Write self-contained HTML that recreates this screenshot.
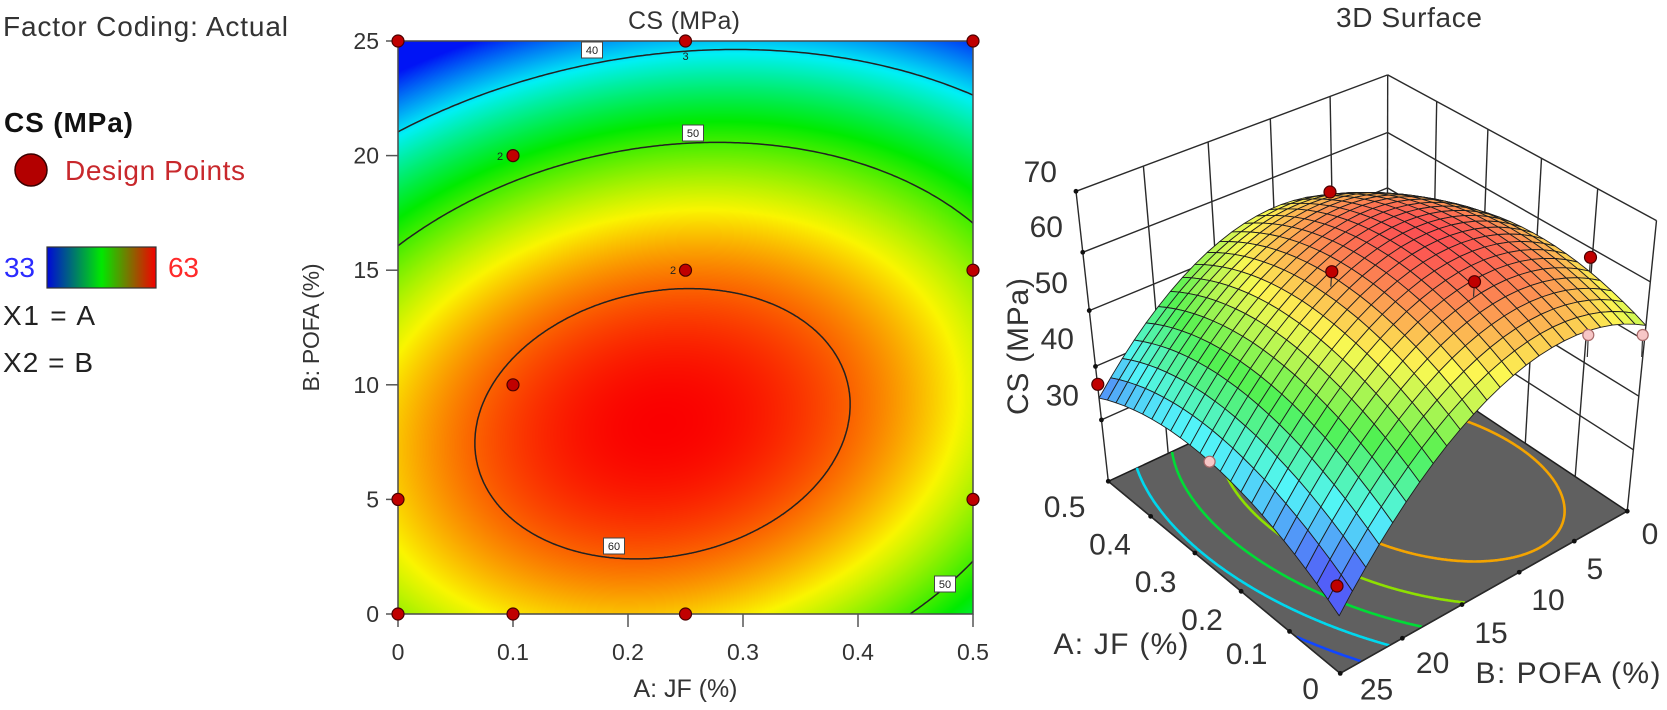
<!DOCTYPE html>
<html><head><meta charset="utf-8"><style>
html,body{margin:0;padding:0;background:#fff;overflow:hidden;}
#root{position:relative;width:1667px;height:710px;overflow:hidden;background:#fff;}
#hm{position:absolute;left:398px;top:41px;display:block;}
#sv{position:absolute;left:0;top:0;display:block;overflow:hidden;}
text{font-family:"Liberation Sans",Arial,sans-serif;}
</style></head><body><div id="root">
<canvas id="hm" width="575" height="573"></canvas>
<svg id="sv" width="1667" height="710" viewBox="0 0 1667 710" xmlns="http://www.w3.org/2000/svg">
<defs>
<linearGradient id="lg" x1="0" x2="1" y1="0" y2="0">
<stop offset="0" stop-color="#0008d8"/><stop offset="0.5" stop-color="#00e800"/><stop offset="1" stop-color="#f40000"/>
</linearGradient>
<clipPath id="cp"><rect x="398" y="41" width="575" height="573"/></clipPath>
</defs>

<!-- Legend -->
<text x="3" y="36" font-size="28" fill="#333" textLength="285">Factor Coding: Actual</text>
<text x="4" y="132" font-size="28" font-weight="bold" fill="#111" textLength="129">CS (MPa)</text>
<circle cx="31" cy="170" r="16" fill="#b30000" stroke="#3a0000" stroke-width="1.5"/>
<text x="65" y="180" font-size="28" fill="#c8282c" textLength="180">Design Points</text>
<text x="4" y="277" font-size="28" fill="#2b2bff" textLength="31">33</text>
<rect x="47" y="247" width="109" height="41" fill="url(#lg)" stroke="#333" stroke-width="1.2"/>
<text x="168" y="277" font-size="28" fill="#ff2a2a" textLength="31">63</text>
<text x="3" y="325" font-size="28" fill="#222" textLength="92">X1 = A</text>
<text x="3" y="372" font-size="28" fill="#222" textLength="90">X2 = B</text>

<!-- Contour plot -->
<text x="684" y="29" text-anchor="middle" font-size="25" fill="#333" textLength="112">CS (MPa)</text>
<g id="cl" clip-path="url(#cp)"></g>
<rect x="398" y="41" width="575" height="573" fill="none" stroke="#4a4a4a" stroke-width="1.5"/>
<g stroke="#555" stroke-width="1.5">
<line x1="386" y1="41" x2="398" y2="41"/><line x1="386" y1="155.6" x2="398" y2="155.6"/>
<line x1="386" y1="270.2" x2="398" y2="270.2"/><line x1="386" y1="384.8" x2="398" y2="384.8"/>
<line x1="386" y1="499.4" x2="398" y2="499.4"/><line x1="386" y1="614" x2="398" y2="614"/>
<line x1="398" y1="614" x2="398" y2="627"/><line x1="513" y1="614" x2="513" y2="627"/>
<line x1="628" y1="614" x2="628" y2="627"/><line x1="743" y1="614" x2="743" y2="627"/>
<line x1="858" y1="614" x2="858" y2="627"/><line x1="973" y1="614" x2="973" y2="627"/>
</g>
<g font-size="23" fill="#333" text-anchor="end">
<text x="379" y="49">25</text><text x="379" y="163.6">20</text><text x="379" y="278.2">15</text>
<text x="379" y="392.8">10</text><text x="379" y="507.4">5</text><text x="379" y="622">0</text>
</g>
<g font-size="23" fill="#333" text-anchor="middle">
<text x="398" y="660">0</text><text x="513" y="660">0.1</text><text x="628" y="660">0.2</text>
<text x="743" y="660">0.3</text><text x="858" y="660">0.4</text><text x="973" y="660">0.5</text>
</g>
<text x="685.5" y="697" text-anchor="middle" font-size="25" fill="#333" textLength="104">A: JF (%)</text>
<text x="319" y="327.5" text-anchor="middle" font-size="23" fill="#333" textLength="128" transform="rotate(-90 319 327.5)">B: POFA (%)</text>

<g font-size="11" fill="#222" text-anchor="middle">
<rect x="581.5" y="42" width="21" height="16" fill="#fff" stroke="#444" stroke-width="1"/><text x="592" y="54">40</text>
<rect x="682.5" y="125" width="21" height="16" fill="#fff" stroke="#444" stroke-width="1"/><text x="693" y="137">50</text>
<rect x="603.5" y="538" width="21" height="16" fill="#fff" stroke="#444" stroke-width="1"/><text x="614" y="550">60</text>
<rect x="934.5" y="576" width="21" height="16" fill="#fff" stroke="#444" stroke-width="1"/><text x="945" y="588">50</text>
<text x="685.5" y="60">3</text><text x="500" y="160">2</text><text x="673" y="274">2</text>
</g>
<g fill="#c00000" stroke="#4a0000" stroke-width="1.2">
<circle cx="398" cy="41" r="6"/><circle cx="685.5" cy="41" r="6"/><circle cx="973" cy="41" r="6"/>
<circle cx="513" cy="155.6" r="6"/><circle cx="685.5" cy="270.2" r="6"/><circle cx="973" cy="270.2" r="6"/>
<circle cx="513" cy="384.8" r="6"/><circle cx="398" cy="499.4" r="6"/><circle cx="973" cy="499.4" r="6"/>
<circle cx="398" cy="614" r="6"/><circle cx="513" cy="614" r="6"/><circle cx="685.5" cy="614" r="6"/>
</g>

<!-- 3D -->
<text x="1409" y="27" text-anchor="middle" font-size="28" fill="#333" textLength="146">3D Surface</text>
<g id="g3"></g>
<g font-size="30" fill="#333" text-anchor="end">
<text x="1057" y="182">70</text><text x="1063" y="237">60</text><text x="1068" y="293">50</text>
<text x="1074" y="349">40</text><text x="1079" y="405.5">30</text>
</g>
<text x="1028" y="346.5" text-anchor="middle" font-size="30" fill="#333" textLength="137" transform="rotate(-90 1028 346.5)">CS (MPa)</text>
<g font-size="30" fill="#333" text-anchor="middle">
<text x="1064.6" y="517">0.5</text><text x="1110" y="554.5">0.4</text><text x="1155.6" y="592">0.3</text>
<text x="1202" y="630">0.2</text><text x="1246.6" y="664">0.1</text><text x="1310.6" y="699">0</text>
<text x="1376.5" y="699.5">25</text><text x="1432.6" y="673">20</text><text x="1491" y="643">15</text>
<text x="1548" y="610">10</text><text x="1594.8" y="579">5</text><text x="1650" y="544">0</text>
<text x="1121" y="654" textLength="135">A: JF (%)</text>
<text x="1568" y="683" textLength="185">B: POFA (%)</text>
</g>
</svg>
</div>
<script>
(function(){
const NS='http://www.w3.org/2000/svg';
function el(tag,attrs,parent){const e=document.createElementNS(NS,tag);for(const k in attrs)e.setAttribute(k,attrs[k]);parent.appendChild(e);return e;}
function F(A,B){const X=(A-0.23)/0.1,Y=(B-8.3)/5;return 63-1.15*X*X-2.2*Y*Y+0.45*X*Y;}
const CM=[[33,[0,20,245]],[40.5,[0,240,245]],[48,[0,235,0]],[55.5,[250,245,0]],[63,[250,0,0]]];
function cmap(v){if(v<=CM[0][0])return CM[0][1].slice();if(v>=CM[4][0])return CM[4][1].slice();
 for(let i=0;i<4;i++){if(v<=CM[i+1][0]){const t=(v-CM[i][0])/(CM[i+1][0]-CM[i][0]);return CM[i][1].map((c,k)=>c+(CM[i+1][1][k]-c)*t);}}return [0,0,0];}
try{
const cv=document.getElementById('hm'),ctx=cv.getContext('2d');const W=575,H=573;const img=ctx.createImageData(W,H);
for(let y=0;y<H;y++)for(let x=0;x<W;x++){const A=(x+0.5)/W*0.5,B=25-(y+0.5)/H*25;const c=cmap(F(A,B));const k=(y*W+x)*4;
 img.data[k]=c[0];img.data[k+1]=c[1];img.data[k+2]=c[2];img.data[k+3]=255;}
ctx.putImageData(img,0,0);
}catch(e){}
function ell(L,n){const pts=[];for(let i=0;i<=n;i++){const th=2*Math.PI*i/n,c=Math.cos(th),s=Math.sin(th);
 const q=1.15*c*c+2.2*s*s-0.45*c*s;const r=Math.sqrt((63-L)/q);pts.push([0.23+0.1*r*c,8.3+5*r*s]);}return pts;}
const gC=document.getElementById('cl');
[40,50,60].forEach(L=>{const pts=ell(L,720);let d='';pts.forEach((p,i)=>{const x=398+p[0]/0.5*575,y=614-p[1]/25*573;d+=(i?'L':'M')+x.toFixed(1)+' '+y.toFixed(1);});
 el('path',{d:d,fill:'none',stroke:'#222','stroke-width':1.5},gC);});
function solve(M,b){const n=b.length;for(let i=0;i<n;i++){let mx=i;for(let k=i+1;k<n;k++)if(Math.abs(M[k][i])>Math.abs(M[mx][i]))mx=k;
 let t=M[i];M[i]=M[mx];M[mx]=t;let tb=b[i];b[i]=b[mx];b[mx]=tb;
 for(let k=i+1;k<n;k++){const f=M[k][i]/M[i][i];for(let j=i;j<n;j++)M[k][j]-=f*M[i][j];b[k]-=f*b[i];}}
 const x=new Array(n).fill(0);for(let i=n-1;i>=0;i--){let s=b[i];for(let j=i+1;j<n;j++)s-=M[i][j]*x[j];x[i]=s/M[i][i];}return x;}
const FP=[[1,1,0,1108.3,482.3],[0,1,0,1337,672],[0,0,0,1624.5,511.7],[1,1,1,1078.3,191.7],[0,0,1,1655,216.7],[1,0,1,1386.7,75],
[1,1,.8077,1084.3,247.7],[1,1,.6154,1089.3,303.3],[1,1,.4231,1095.3,359.3],[1,1,.2308,1100,415],
[1,0,.8077,1386.7,129.3],[1,0,.6154,1386.7,183.3],[0,0,.8077,1648.3,271.7],
[.8,0,1,1439.3,105],[.6,0,1,1494,133.3],[.4,0,1,1548.3,162.7],[.2,0,1,1601.7,190],
[1,.8,1,1141,170],[1,.6,1,1202,147],[1,.4,1,1265,123],[1,.2,1,1327,99],
[.8,1,0,1154.6,520],[.6,1,0,1200,557],[.4,1,0,1245.8,596],[.2,1,0,1291,633],[0,.8,0,1394.5,640]];
const TC={'000':[1624.5,511.7],'010':[1337,672],'110':[1108.3,482.3],'100':[1390,335],'001':[1655,216.7],'011':[1332.5,334],'111':[1078.3,191.7],'101':[1386.7,75]};
function tri(u,v,w){let x=0,y=0;for(const a of[0,1])for(const b of[0,1])for(const c of[0,1]){const wt=(a?u:1-u)*(b?v:1-v)*(c?w:1-w);const p=TC[''+a+b+c];x+=wt*p[0];y+=wt*p[1];}return[x,y];}
let proj=tri;
try{const cx=1350,cy=350,s=300,N=11;const M=[],b=[];for(let i=0;i<N;i++){M.push(new Array(N).fill(0));b.push(0);}
 for(const p of FP){const u=p[0],v=p[1],w=p[2],x=(p[3]-cx)/s,y=(p[4]-cy)/s;
  const rows=[[[u,v,w,1,0,0,0,0,-x*u,-x*v,-x*w],x],[[0,0,0,0,u,v,w,1,-y*u,-y*v,-y*w],y]];
  for(const rw of rows){const r=rw[0],t=rw[1];for(let i=0;i<N;i++){b[i]+=r[i]*t;for(let j=0;j<N;j++)M[i][j]+=r[i]*r[j];}}}
 for(let i=8;i<11;i++)M[i][i]+=1e-4;
 const p=solve(M,b);
 const dl=(u,v,w)=>{const den=p[8]*u+p[9]*v+p[10]*w+1;return[((p[0]*u+p[1]*v+p[2]*w+p[3])/den)*s+cx,((p[4]*u+p[5]*v+p[6]*w+p[7])/den)*s+cy];};
 let ok=p.every(isFinite);let mx=0;
 if(ok){for(const q of FP){const r=dl(q[0],q[1],q[2]);mx=Math.max(mx,Math.hypot(r[0]-q[3],r[1]-q[4]));}
  for(const a of[0,1])for(const bb of[0,1])for(const c of[0,1]){const den=p[8]*a+p[9]*bb+p[10]*c+1;if(!(den>0.3))ok=false;}}
 if(ok&&mx<14)proj=dl;
}catch(e){}
const P3=(A,B,z)=>proj(A/0.5,B/25,(z-18)/52);
const g3=document.getElementById('g3');
const fmt=pts=>pts.map(p=>p[0].toFixed(1)+','+p[1].toFixed(1)).join(' ');
el('polygon',{points:fmt([P3(0.5,25,18),P3(0,25,18),P3(0,0,18),P3(0.5,0,18)]),fill:'#606060',stroke:'#1e1e1e','stroke-width':1.5},g3);
const FC={34:'#1046ff',40:'#00d8ee',46:'#00dc36',52:'#8ee000',58:'#f4a400'};
[34,40,46,52,58].forEach(L=>{const pts=ell(L,1440);let seg=[];const segs=[];
 pts.forEach(q=>{if(q[0]>=0&&q[0]<=0.5&&q[1]>=0&&q[1]<=25)seg.push(P3(q[0],q[1],18));else{if(seg.length>1)segs.push(seg);seg=[];}});
 if(seg.length>1)segs.push(seg);
 segs.forEach(sg=>{el('polyline',{points:fmt(sg),fill:'none',stroke:FC[L],'stroke-width':2.6},g3);});});
const wl={stroke:'#2a2a2a','stroke-width':1.4,fill:'none'};
function line(a,b){const o=Object.assign({x1:a[0].toFixed(1),y1:a[1].toFixed(1),x2:b[0].toFixed(1),y2:b[1].toFixed(1)},wl);el('line',o,g3);}
[30,40,50,60,70].forEach(z=>{line(P3(0.5,25,z),P3(0.5,0,z));line(P3(0.5,0,z),P3(0,0,z));});
[0,5,10,15,20,25].forEach(B=>line(P3(0.5,B,18),P3(0.5,B,70)));
[0,0.1,0.2,0.3,0.4].forEach(A=>line(P3(A,0,18),P3(A,0,70)));
line(P3(0.5,25,18),P3(0,25,18));line(P3(0,25,18),P3(0,0,18));
[30,40,50,60,70].forEach(z=>{const q=P3(0.5,25,z);el('circle',{cx:q[0],cy:q[1],r:2.4,fill:'#111'},g3);});
[0,0.1,0.2,0.3,0.4,0.5].forEach(A=>{const q=P3(A,25,18);el('circle',{cx:q[0],cy:q[1],r:2.4,fill:'#111'},g3);});
[0,5,10,15,20].forEach(B=>{const q=P3(0,B,18);el('circle',{cx:q[0],cy:q[1],r:2.4,fill:'#111'},g3);});
const N=24,G=[];
for(let i=0;i<=N;i++){G.push([]);for(let j=0;j<=N;j++){const A=0.5*i/N,B=25*j/N;G[i].push(P3(A,B,F(A,B)));}}
const quads=[];
for(let i=0;i<N;i++)for(let j=0;j<N;j++){const Ac=0.5*(i+.5)/N,Bc=25*(j+.5)/N;quads.push({i:i,j:j,d:Ac/0.5+(1-Bc/25),f:F(Ac,Bc)});}
quads.sort((a,b)=>b.d-a.d);
quads.forEach(q=>{const pts=[G[q.i][q.j],G[q.i+1][q.j],G[q.i+1][q.j+1],G[q.i][q.j+1]];
 const c=cmap(q.f).map(v=>Math.round(v*0.68+255*0.32));
 el('polygon',{points:fmt(pts),fill:'rgb('+c.join(',')+')',stroke:'#1e1e1e','stroke-width':0.9,'stroke-linejoin':'round'},g3);});
const stem={stroke:'#333','stroke-width':1.2};
[[1331.8,271.7],[1474.5,281.7],[1590.5,257.3]].forEach(p=>el('line',Object.assign({x1:p[0],y1:p[1],x2:p[0]-1,y2:p[1]+15},stem),g3));
[[1588.3,335],[1642.7,335]].forEach(p=>el('line',Object.assign({x1:p[0],y1:p[1],x2:p[0]-1,y2:p[1]+22},stem),g3));
[[1209.6,461.7],[1588.3,335],[1642.7,335]].forEach(p=>el('circle',{cx:p[0],cy:p[1],r:5.5,fill:'#f7c6c6',stroke:'#a86a6a','stroke-width':1.2},g3));
[[1097.8,384.3],[1337,586],[1330,192],[1331.8,271.7],[1474.5,281.7],[1590.5,257.3]].forEach(p=>el('circle',{cx:p[0],cy:p[1],r:6,fill:'#c00000',stroke:'#4a0000','stroke-width':1.2},g3));
})();
</script>
</body></html>
